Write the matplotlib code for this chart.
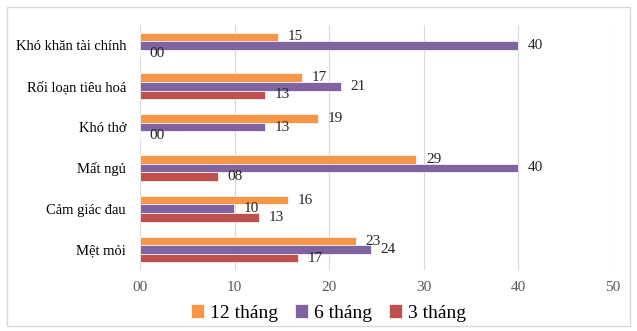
import numpy as np
import matplotlib
matplotlib.use("Agg")
import matplotlib.pyplot as plt
from matplotlib.patches import Rectangle

plt.rcParams['font.family'] = ['Liberation Serif', 'DejaVu Serif']

# dữ liệu (từ dưới lên trên)
categories = ["Mệt mỏi", "Cảm giác đau", "Mất ngủ", "Khó thở", "Rối loạn tiêu hoá", "Khó khăn tài chính"]
m12 = [22.8, 15.6, 29.2, 18.8, 17.1, 14.6]
m6 = [24.4, 9.9, 40.0, 13.2, 21.2, 40.0]
m3 = [16.7, 12.6, 8.2, 0.0, 13.2, 0.0]
series_names = ["12 tháng", "6 tháng", "3 tháng"]
colors = ["#F79646", "#8064A2", "#C0504D"]
xticks = [0, 10, 20, 30, 40, 50]

fig = plt.figure(figsize=(6.37, 3.31), dpi=100)
ax = fig.add_axes([0.2198, 0.1843, 0.7425, 0.7402])

# khung ngoài
fig.patches.append(Rectangle((0.011, 0.015), 0.978, 0.964, transform=fig.transFigure,
                             fill=False, edgecolor="#D9D9D9", linewidth=1))

y = np.arange(len(categories))
h = 0.21
for vals, off, col, name in zip([m12, m6, m3], [h, 0, -h], colors, series_names):
    ax.barh(y + off, vals, height=h, color=col, edgecolor="white", linewidth=0.5, label=name, zorder=3)
    for yi, v in zip(y, vals):
        ax.annotate(f"{v:02.0f}", (v, yi + off), xytext=(7, 0), textcoords="offset points",
                    va="center", ha="left", fontsize=11, color="#262626", zorder=4)

ax.set_xlim(0, 50)
ax.set_ylim(-0.5, len(categories) - 0.5)
ax.set_xticks(xticks)
ax.set_xticklabels([f"{t:02d}" for t in xticks], fontsize=11, color="#595959")
ax.set_yticks(y)
ax.set_yticklabels(categories, fontsize=10.5, color="#000000")
ax.tick_params(axis="both", length=0)
ax.tick_params(axis="x", pad=8)
ax.tick_params(axis="y", pad=10)
for s in ax.spines.values():
    s.set_visible(False)
ax.grid(axis="x", color="#D9D9D9", linewidth=0.8, zorder=0)
ax.set_axisbelow(True)

ax.legend(loc="center", bbox_to_anchor=(0.398, -0.175), ncol=3, frameon=False, fontsize=14,
          handlelength=0.7, handleheight=0.7, handletextpad=0.3, columnspacing=0.85)

fig.savefig("out.png", dpi=100)
